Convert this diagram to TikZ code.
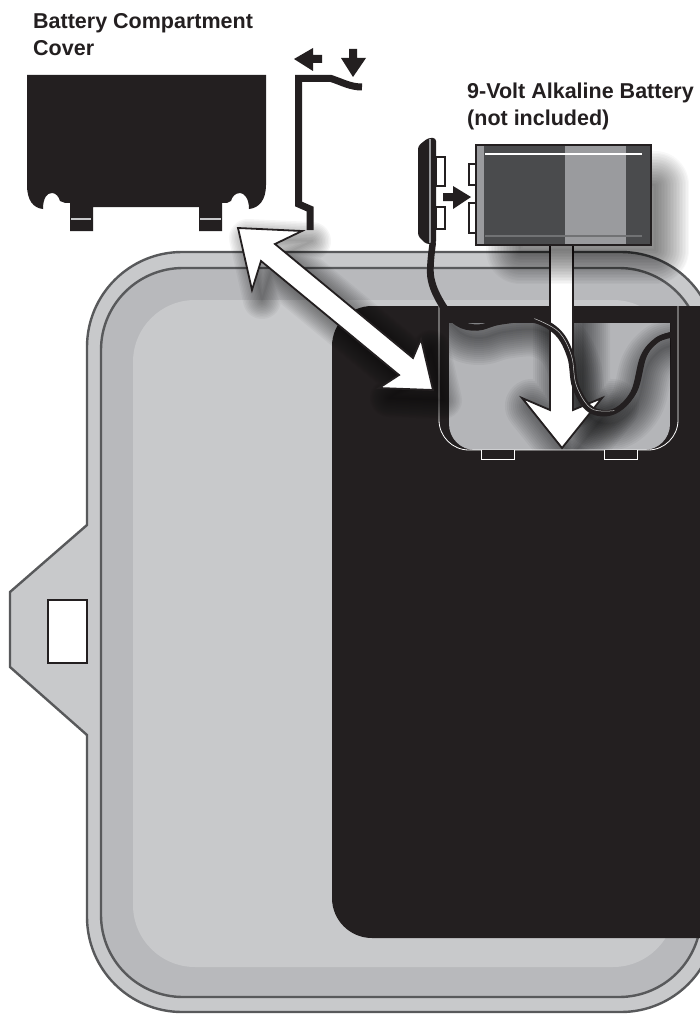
\documentclass[tikz,border=0pt]{standalone}
\usepackage{fontspec}
\setmainfont{Liberation Sans}
\definecolor{ink}{HTML}{231F20}
\definecolor{edge-gray}{HTML}{58595B}
\definecolor{body-gray}{HTML}{C8C9CB}
\definecolor{rim-gray}{HTML}{B8B9BC}
\definecolor{well-gray}{HTML}{B4B5B8}
\definecolor{batt-dark}{HTML}{4A4B4D}
\definecolor{batt-light}{HTML}{9A9B9E}
\usetikzlibrary{positioning}

\begin{document}
\begin{tikzpicture}[x=1pt, y=-1pt,
  label/.style={inner sep=0pt, align=left, anchor=north west, font=\fontsize{21.5}{27}\selectfont\bfseries, text=ink},
  rim/.style={draw=edge-gray, line width=2.4pt},
  inkarrow/.style={fill=ink, draw=none},
  whitearrow/.style={fill=white, draw=ink, line width=1.8pt, miter limit=10},
  contact/.style={fill=white, draw=ink, line width=2pt},
  clip tab/.style={fill=ink, draw=white, line width=.8pt},
  wire/.style={draw=ink, line width=5.5pt, line cap=round},
  twoway/.style={insert path={(238,228) -- (302,231) -- (275,244) -- (413,358) -- (421,339) -- (433,390) -- (379,388) -- (399,375) -- (261,261) -- (252,290) -- cycle}},
  downway/.style={insert path={(550,245) -- (573,245) -- (573,410) -- (602,398) -- (562,448) -- (522,398) -- (550,410) -- cycle}},
  wirerun/.style={insert path={plot[smooth, tension=.6] coordinates {(432,245) (430,277) (440,303) (457,323) (477,328) (500,322) (533,320) (557,333) (570,357) (575,387) (590,410) (613,412) (633,393) (643,357) (657,340) (672,335)}}},
  soft/.style={draw=black, opacity=.028, line join=round},
  softer/.style={soft, opacity=.045}]

  \clip (0,0) rectangle (700,1014);

  % housing
  \draw[rim, fill=body-gray] (87,525) [rounded corners=95pt] -- (87,252) -- (716,252) -- (716,1012) -- (87,1012) [sharp corners] -- (87,735) -- (10,667) -- (10,592) -- cycle;
  \draw[rim, fill=rim-gray, rounded corners=82pt] (101,268) rectangle (701,997);
  \fill[body-gray, rounded corners=62pt] (133,300) rectangle (675,967);
  \fill[ink, rounded corners=40pt] (332,306) rectangle (760,938);
  \draw[fill=white, draw=ink, line width=2pt] (48,600) rectangle (87,663);

  % battery well
  \begin{scope}
    \clip (449,323) [rounded corners=26pt] -- (449,450) -- (670,450) [sharp corners] -- (670,323) -- cycle;
    \fill[well-gray] (449,323) rectangle (670,450);
    \foreach \w in {2,6,...,54} {
      \path[softer, shift={(4,10)}, line width=\w pt, wirerun];
      \path[softer, shift={(10,8)}, line width=\w pt, downway];
    }
  \end{scope}
  \draw[white, line width=.8pt, rounded corners=30pt] (439,306) -- (439,450) -- (678,450) -- (678,306);
  \draw[clip tab] (481,450) -- (481,459) -- (514,459) -- (514,450);
  \draw[clip tab] (604,450) -- (604,459) -- (637,459) -- (637,450);

  % down arrow, shadow of the battery falls on it
  \path[whitearrow, downway];
  \foreach \w in {2,5,...,70} {
    \path[soft, line width=\w pt] (520,185) rectangle (655,250);
  }

  % two way arrow
  \foreach \w in {2,5,...,38} {
    \path[soft, opacity=.036, shift={(10,10)}, line width=\w pt, twoway];
  }
  \path[whitearrow, twoway];

  % cover
  \fill[ink] (27,75) -- (266,75) -- (266,185) .. controls (266,200) and (259,208) .. (249,209)
    .. controls (249,198) and (244,193) .. (240,193) .. controls (235,193) and (232,197) .. (231,201)
    .. controls (229,203) and (226,203) .. (222,203) -- (222,231) -- (199,231) -- (199,207) -- (93,207) -- (93,231) -- (70,231) -- (70,203)
    .. controls (66,203) and (63,203) .. (60,201) .. controls (59,197) and (56,193) .. (52,193)
    .. controls (47,193) and (43,198) .. (43,209) .. controls (33,208) and (27,200) .. (27,185) -- cycle;
  \draw[body-gray, line width=2pt] (71,219) -- (91,219);
  \draw[body-gray, line width=2pt] (200,219) -- (221,219);

  % cover side view
  \draw[ink, line width=7pt, miter limit=10] (310,230) -- (310,209) -- (298.5,204) -- (298.5,78.5) -- (331,78.5) .. controls (342,82) and (350,87) .. (362,87);
  \path[inkarrow] (294,59) -- (313,48) -- (313,55) -- (322,55) -- (322,63) -- (313,63) -- (313,71) -- cycle;
  \path[inkarrow] (349,49) -- (357,49) -- (357,58) -- (366,58) -- (353,77) -- (341,58) -- (349,58) -- cycle;

  % battery
  \draw[contact] (469,164) rectangle (476,185);
  \draw[contact] (469,203) rectangle (476,233);
  \fill[batt-dark] (476,145) rectangle (651,245);
  \fill[batt-light] (565,145) rectangle (626,245);
  \fill[batt-light] (476,145) rectangle (484,245);
  \draw[white, line width=1.6pt] (485,154) -- (642,154);
  \draw[edge-gray!85!white, line width=1.6pt] (485,236) -- (642,236);
  \draw[ink, line width=2.2pt] (476,145) rectangle (651,245);

  % battery clip and lead
  \draw[contact] (436,157) rectangle (445,186);
  \draw[contact] (436,207) rectangle (445,229);
  \fill[ink, rounded corners=3pt] (418,146) -- (428,138) -- (436,138) -- (436,244) -- (426,244) -- (418,236) -- cycle;
  \draw[batt-light, line width=1.4pt] (430,139) -- (430,243);
  \path[wire, wirerun];
  \path[wire, line width=4pt, shift={(2,-1.6)}, wirerun];
  \draw[white!80!black, line width=.5pt, shift={(1.4,-1.4)}] plot[smooth, tension=.6] coordinates {(533,320) (557,333) (570,357) (575,387) (590,410) (613,412)};
  \path[inkarrow] (443,193) -- (453,193) -- (453,186) -- (471,197) -- (453,209) -- (453,201) -- (443,201) -- cycle;

  \node[label] (coverlabel) at (33,13) {Battery Compartment\\Cover};
  \node[label] (batterylabel) at (467,82.5) {9-Volt Alkaline Battery\\(not included)};

\end{tikzpicture}
\end{document}
